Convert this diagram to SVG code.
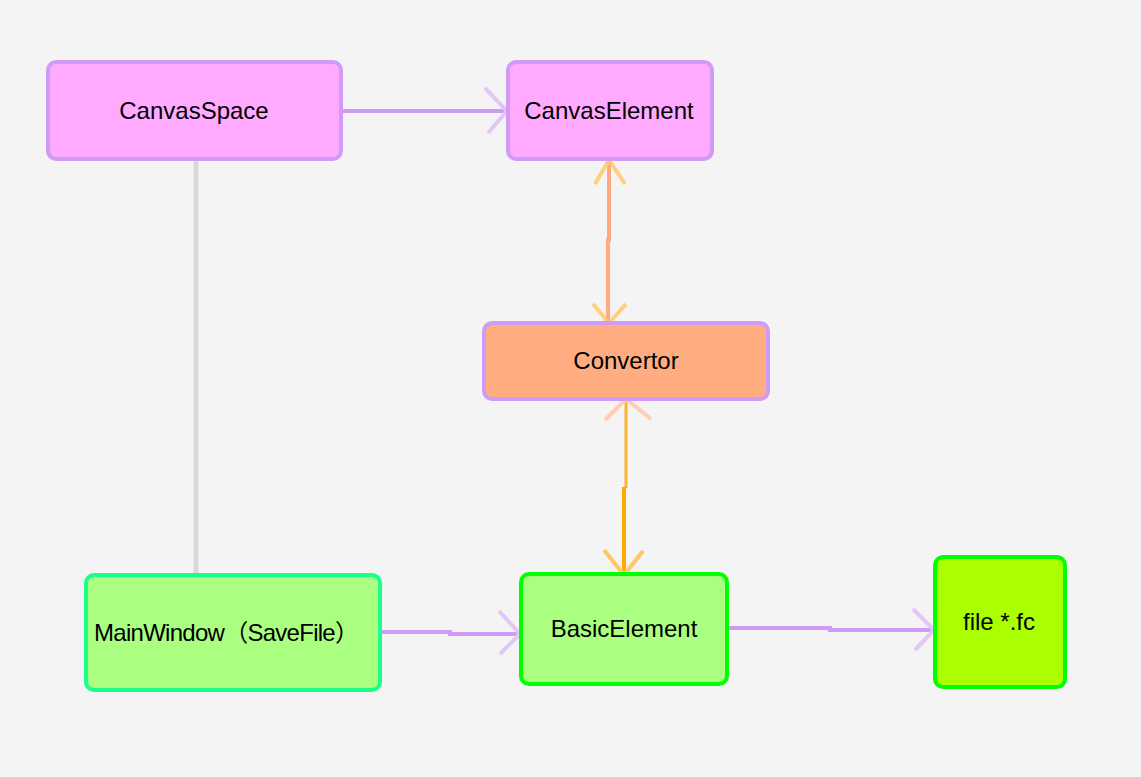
<svg xmlns="http://www.w3.org/2000/svg" width="1141" height="777" viewBox="0 0 1141 777">
<style>
text{font-family:"Liberation Sans",Arial,"Noto Sans CJK SC",sans-serif;font-size:24px;fill:#000;text-anchor:middle}
.p{stroke:#cf9bf7;stroke-width:4}
.g{stroke:#1aff88;stroke-width:4}
.gg{stroke:#00ff00;stroke-width:4}
.ln{fill:none;stroke-linecap:butt}
.ah{fill:none;stroke-width:4;stroke-linecap:butt}
</style>
<rect width="1141" height="777" fill="#f4f4f4"/>
<g id="connectors">
<line x1="196" y1="160" x2="196" y2="575" stroke="#d9d9d9" stroke-width="5"/>
<line class="ln" x1="342" y1="111" x2="507" y2="111" stroke="#cf9bf7" stroke-width="4"/>
<polyline class="ah" points="485,88 507,111 488,133" stroke="#e2c6f8"/>
<polyline class="ln" points="609,159 609,240 608,240 608,322" stroke="#ffaa80" stroke-width="4"/>
<polyline class="ah" points="595,184 609,160 625,184" stroke="#ffc866" stroke-opacity="0.85"/>
<polyline class="ah" points="593,304 609,323 626,304" stroke="#ffc866" stroke-opacity="0.85"/>
<line class="ln" x1="626" y1="399" x2="626" y2="488" stroke="#ffb133" stroke-width="3"/>
<line class="ln" x1="624" y1="487" x2="624" y2="575" stroke="#ffaa00" stroke-width="4"/>
<polyline class="ah" points="605,420 626,399 651,419" stroke="#ffcdb4"/>
<polyline class="ah" points="604,550 624,575 643,551" stroke="#ffc866"/>
<polyline class="ln" points="381,632 450,632 450,634 520,634" stroke="#cf9bf7" stroke-width="4"/>
<polyline class="ah" points="499,611 520,634 500,654" stroke="#e2c6f8"/>
<polyline class="ln" points="728,628 830,628 830,630 934,630" stroke="#cf9bf7" stroke-width="4"/>
<polyline class="ah" points="913,609 934,630 915,650" stroke="#e2c6f8"/>
</g>
<g id="CanvasSpace">
<rect x="48" y="62" width="293" height="97" rx="8" fill="#ffaaff" class="p"/>
<text x="194" y="119">CanvasSpace</text>
</g>
<g id="CanvasElement">
<rect x="508" y="62" width="204" height="97" rx="8" fill="#ffaaff" class="p"/>
<text x="609" y="119">CanvasElement</text>
</g>
<g id="Convertor">
<rect x="484" y="323" width="284" height="76" rx="8" fill="#ffad80" class="p"/>
<text x="626" y="369">Convertor</text>
</g>
<g id="MainWindow">
<rect x="86" y="575" width="294" height="115" rx="8" fill="#aaff80" class="g"/>
<text x="94" y="641" style="text-anchor:start" textLength="265" lengthAdjust="spacing">MainWindow（SaveFile）</text>
</g>
<g id="BasicElement">
<rect x="521" y="574" width="206" height="110" rx="8" fill="#aaff80" class="gg"/>
<text x="624" y="637">BasicElement</text>
</g>
<g id="file">
<rect x="935" y="557" width="130" height="130" rx="8" fill="#aaff00" class="gg"/>
<text x="999" y="630">file *.fc</text>
</g>
</svg>
